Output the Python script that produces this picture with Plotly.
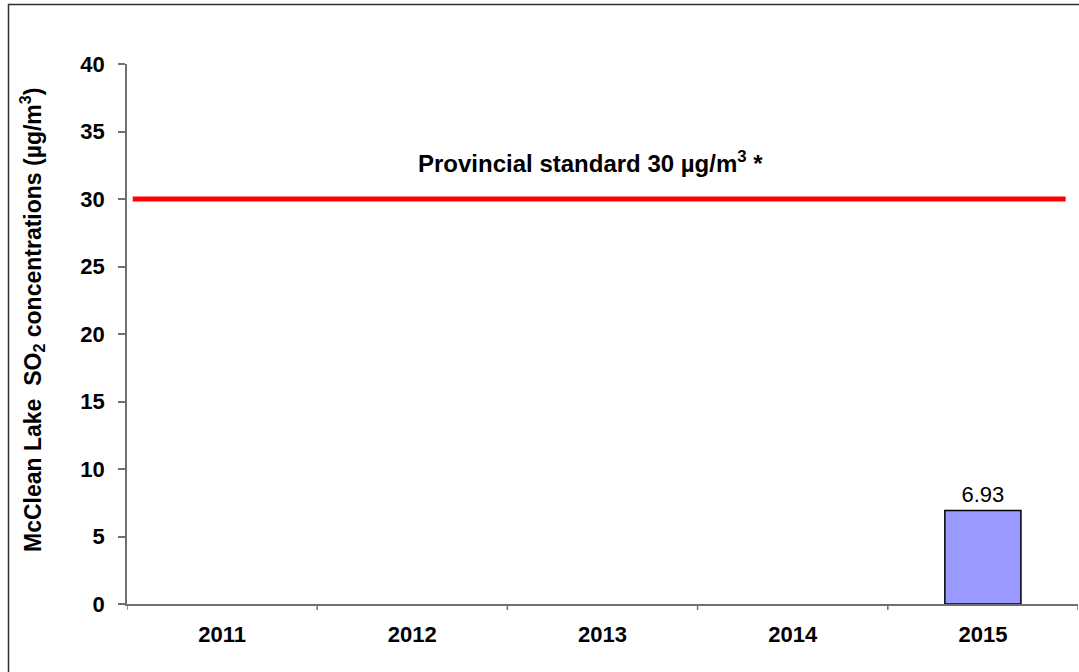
import plotly.graph_objects as go

years = ["2011", "2012", "2013", "2014", "2015"]
so2_values = [None, None, None, None, 6.93]
bar_labels = ["", "", "", "", "6.93"]
standard_value = 30
y_ticks = [0, 5, 10, 15, 20, 25, 30, 35, 40]

FONT = "Arial, 'Liberation Sans', sans-serif"

fig = go.Figure()
fig.add_trace(go.Bar(
    x=years, y=so2_values, width=0.4,
    marker=dict(color="#9999FF", line=dict(color="#000000", width=1.5)),
    text=bar_labels, textposition="outside",
    textfont=dict(family=FONT, size=22, color="#000000"),
    cliponaxis=False, showlegend=False, hoverinfo="skip",
))

# provincial standard line
fig.add_shape(type="line", xref="paper", yref="y",
              x0=0.006, x1=0.987, y0=standard_value, y1=standard_value,
              line=dict(color="#FF0000", width=5))

fig.add_annotation(text="<b>Provincial standard 30 µg/m<sup>3</sup> *</b>",
                   xref="paper", yref="paper", x=0.487, y=(604 - 145) / 540,
                   showarrow=False, font=dict(family=FONT, size=24, color="#000000"))

fig.add_annotation(text="<b>McClean Lake  SO<sub>2</sub> concentrations (µg/m<sup>3</sup>)</b>",
                   xref="paper", yref="paper", x=(14 - 127) / 951, y=(604 - 320) / 540,
                   textangle=-90, showarrow=False,
                   font=dict(family=FONT, size=23, color="#000000"))

# outer border
fig.add_shape(type="rect", xref="paper", yref="paper",
              x0=(8.5 - 127) / 951, x1=1.05, y0=-0.3, y1=(604 - 4.5) / 540,
              line=dict(color="#303030", width=1.5), layer="below")

fig.update_layout(
    width=1079, height=672,
    margin=dict(l=127, r=1, t=64, b=68),
    paper_bgcolor="white", plot_bgcolor="white",
    bargap=0.6,
    font=dict(family=FONT, color="#000000"),
    xaxis=dict(
        type="category", range=[-0.5, 4.5],
        showline=True, linecolor="#707070", linewidth=1.5,
        ticks="outside", ticklen=0, showgrid=False, zeroline=False,
        tickfont=dict(family=FONT, size=22, color="#000000", weight="bold"),
        ticklabelstandoff=10,
    ),
    yaxis=dict(
        range=[0, 40], tickvals=y_ticks,
        showline=True, linecolor="#707070", linewidth=1.5,
        ticks="outside", ticklen=7, tickcolor="#707070", tickwidth=1.5,
        showgrid=False, zeroline=False,
        tickfont=dict(family=FONT, size=22, color="#000000", weight="bold"),
        ticklabelstandoff=9,
    ),
)

# category boundary tick marks on x axis (between categories)
for i in range(len(years) + 1):
    fig.add_shape(type="line", xref="x", yref="paper",
                  x0=i - 0.5, x1=i - 0.5, y0=0, y1=-6 / 540,
                  line=dict(color="#707070", width=1.5))

fig.write_html("out.html")
